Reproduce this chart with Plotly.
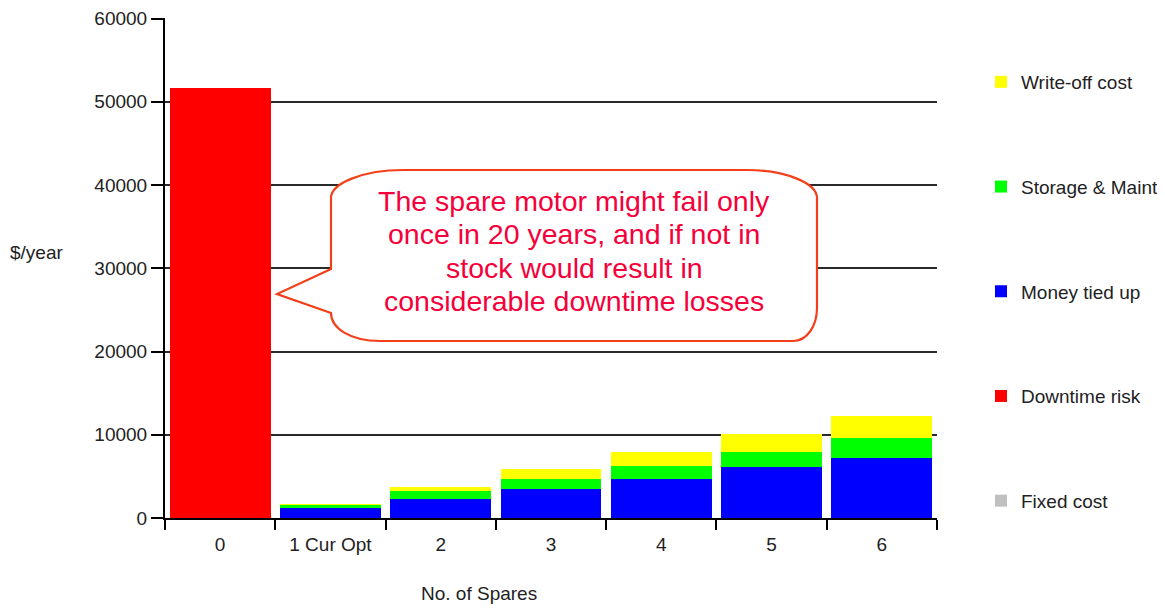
import plotly.graph_objects as go

# ---------------- data ----------------
categories = ["0", "1 Cur Opt", "2", "3", "4", "5", "6"]
fixed_cost = [0, 0, 0, 0, 0, 0, 0]
downtime_risk = [51700, 0, 0, 0, 0, 0, 0]
money_tied_up = [0, 1200, 2330, 3530, 4680, 6080, 7250]
storage_maint = [0, 450, 960, 1190, 1610, 1890, 2350]
write_off = [0, 30, 480, 1160, 1630, 2110, 2600]

y_ticks = [0, 10000, 20000, 30000, 40000, 50000, 60000]
callout_lines = ["The spare motor might fail only",
                 "once in 20 years, and if not in",
                 "stock would result in",
                 "considerable downtime losses"]

# ---------------- layout constants ----------------
# page body has an 8px margin, so the figure is drawn at (8, 8)
OFF = 8
W, H = 1165 - OFF, 608 - OFF
PL, PR, PT, PB = 165, 937, 18, 518          # plot area in target pixels
ML, MR, MT, MB = PL - OFF, W - (PR - OFF), PT - OFF, H - (PB - OFF)
PW, PH = PR - PL, PB - PT
FONT = "Liberation Sans, Arial, sans-serif"
TXT = "#222222"
FS = 19


def px(x):
    return (x - PL) / PW


def py(y):
    return (PB - y) / PH


series = [
    ("Fixed cost", fixed_cost, "#C0C0C0", 5),
    ("Downtime risk", downtime_risk, "#FF0000", 4),
    ("Money tied up", money_tied_up, "#0000FF", 3),
    ("Storage & Maint", storage_maint, "#00FF00", 2),
    ("Write-off cost", write_off, "#FFFF00", 1),
]

fig = go.Figure()
for name, vals, col, rank in series:
    fig.add_trace(go.Bar(
        x=categories, y=vals, name=name, legendgroup=name, legendrank=rank,
        marker=dict(color=col, line=dict(width=0)),
    ))

# speech bubble path (pixel geometry converted to paper coords)
def P(x, y):
    return f"{px(x):.5f},{py(y):.5f}"

L, R, T, B = 331, 817, 170, 341
path = (
    f"M{P(403, T)} L{P(747, T)} "
    f"C{P(747 + 38, T)} {P(R, 198 - 15)} {P(R, 198)} "
    f"L{P(R, 308)} "
    f"C{P(R, 308 + 18)} {P(793 + 14, B)} {P(793, B)} "
    f"L{P(380, B)} "
    f"C{P(380 - 30, B)} {P(L, 313 + 15)} {P(L, 313)} "
    f"L{P(277, 294)} L{P(L, 269)} L{P(L, 198)} "
    f"C{P(L, 198 - 15)} {P(403 - 39, T)} {P(403, T)} Z"
)

annotations = []
for i, line in enumerate(callout_lines):
    annotations.append(dict(
        text=line, xref="paper", yref="paper",
        x=px(574), y=py(201 + i * 33.4), xanchor="center", yanchor="middle",
        showarrow=False,
        font=dict(family=FONT, size=28.5, color="#F5003A")))
annotations += [
    dict(text="$/year", xref="paper", yref="paper", x=px(8), y=py(252),
         xanchor="left", yanchor="middle", showarrow=False,
         font=dict(family=FONT, size=FS, color=TXT)),
    dict(text="No. of Spares", xref="paper", yref="paper", x=px(479), y=py(593),
         xanchor="center", yanchor="middle", showarrow=False,
         font=dict(family=FONT, size=FS, color=TXT)),
]

fig.update_layout(
    width=W, height=H,
    margin=dict(l=ML, r=MR, t=MT, b=MB, autoexpand=False),
    paper_bgcolor="white", plot_bgcolor="white",
    barmode="stack", bargap=0.085,
    font=dict(family=FONT, size=FS, color=TXT),
    showlegend=True,
    legend=dict(
        x=px(981), y=py(63), xanchor="left", yanchor="top",
        traceorder="grouped", tracegroupgap=77,
        font=dict(family=FONT, size=FS, color=TXT),
        bgcolor="rgba(0,0,0,0)",
    ),
    xaxis=dict(
        type="category", showline=True, linecolor="black", linewidth=2,
        ticks="outside", tickson="boundaries", ticklen=10, tickwidth=1.5,
        tickcolor="black", showgrid=False, ticklabelstandoff=8,
        tickfont=dict(family=FONT, size=FS, color=TXT),
    ),
    yaxis=dict(
        range=[0, 60060], tickvals=y_ticks, ticktext=[str(v) for v in y_ticks],
        showline=True, linecolor="black", linewidth=2,
        ticks="outside", ticklen=12, tickwidth=1.5, tickcolor="black",
        showgrid=True, gridcolor="#2a2a2a", gridwidth=1.5,
        zeroline=False,
        tickfont=dict(family=FONT, size=FS, color=TXT),
    ),
    shapes=[dict(
        type="path", xref="paper", yref="paper", path=path,
        fillcolor="white", line=dict(color="#F4401A", width=2.2), layer="above",
    )],
    annotations=annotations,
)

fig.write_html("out.html")
